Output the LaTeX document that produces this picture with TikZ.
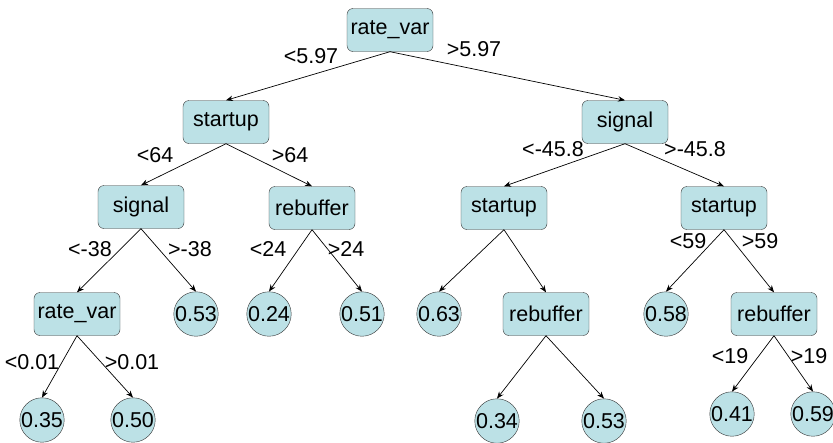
\documentclass[tikz,border=0pt]{standalone}
\usepackage{fontspec}
\setmainfont{Liberation Sans}
\usetikzlibrary{arrows.meta}
\definecolor{treeblue}{RGB}{188,225,230}

\begin{document}
\begin{tikzpicture}[
    x=1pt,
    y=-1pt,
    font=\fontsize{21.5}{25}\selectfont,
    split/.style={draw=black!80,fill=treeblue,rounded corners=6pt,minimum width=86pt,minimum height=43pt,inner sep=3pt},
    leaf/.style={draw=black!80,fill=treeblue,circle,minimum size=42pt,inner sep=0pt},
    cond/.style={inner sep=0pt},
    edge/.style={-{Stealth[length=7pt,width=5.5pt]},line width=0.7pt}
    ]
    \useasboundingbox (0,0) rectangle (833,442);

    \node[split] (n1) at (390, 30) {rate\_var};

    \node[split] (n2) at (226,122) {startup};
    \node[split] (n3) at (625,122) {signal};

    \node[split] (n4) at (141,207) {signal};
    \node[split] (n5) at (312,208) {rebuffer};
    \node[split] (n6) at (504,208) {startup};
    \node[split] (n7) at (724,208) {startup};

    \node[split] (n8) at ( 77,314) {rate\_var};
    \node[leaf]  (l1) at (196,314) {0.53};
    \node[leaf]  (l2) at (269,314) {0.24};
    \node[leaf]  (l3) at (362,314) {0.51};
    \node[leaf]  (l4) at (439,314) {0.63};
    \node[split] (n9) at (546,314) {rebuffer};
    \node[leaf]  (l5) at (666,314) {0.58};
    \node[split] (n10) at (774,314) {rebuffer};

    \node[leaf]  (l6) at ( 42,420) {0.35};
    \node[leaf]  (l7) at (133,420) {0.50};
    \node[leaf]  (l8) at (497,421) {0.34};
    \node[leaf]  (l9) at (604,421) {0.53};
    \node[leaf]  (l10) at (732,414) {0.41};
    \node[leaf]  (l11) at (813,414) {0.59};

    % split conditions
    \node[cond] (c1) at (311, 56) {<5.97};
    \node[cond] (c2) at (474, 49) {>5.97};
    \node[cond] (c3) at (155,155) {<64};
    \node[cond] (c4) at (290,155) {>64};
    \node[cond] (c5) at (553,149) {<-45.8};
    \node[cond] (c6) at (695,149) {>-45.8};
    \node[cond] (c7) at ( 90,249) {<-38};
    \node[cond] (c8) at (190,249) {>-38};
    \node[cond] (c9) at (268,249) {<24};
    \node[cond] (c10) at (346,249) {>24};
    \node[cond] (c11) at (688,241) {<59};
    \node[cond] (c12) at (760,241) {>59};
    \node[cond] (c13) at ( 32,362) {<0.01};
    \node[cond] (c14) at (132,362) {>0.01};
    \node[cond] (c15) at (730,356) {<19};
    \node[cond] (c16) at (809,356) {>19};

    % first level
    \draw[edge] (n1.south) -- (n2.north);
    \draw[edge] (n1.south) -- (n3.north);
    % second level
    \draw[edge] (n2.south) -- (n4.north);
    \draw[edge] (n2.south) -- (n5.north);
    \draw[edge] (n3.south) -- (n6.north);
    \draw[edge] (n3.south) -- (n7.north);
    % third level
    \draw[edge] (n4.south) -- (n8.north);
    \draw[edge] (n4.south) -- (l1.north);
    \draw[edge] (n5.south) -- (l2.north);
    \draw[edge] (n5.south) -- (l3.north);
    \draw[edge] (n6.south) -- (l4.north);
    \draw[edge] (n6.south) -- (n9.north);
    \draw[edge] (n7.south) -- (l5.north);
    \draw[edge] (n7.south) -- (n10.north);
    % fourth level
    \draw[edge] (n8.south) -- (l6.north);
    \draw[edge] (n8.south) -- (l7.north);
    \draw[edge] (n9.south) -- (l8.north);
    \draw[edge] (n9.south) -- (l9.north);
    \draw[edge] (n10.south) -- (l10.north);
    \draw[edge] (n10.south) -- (l11.north);
\end{tikzpicture}
\end{document}
